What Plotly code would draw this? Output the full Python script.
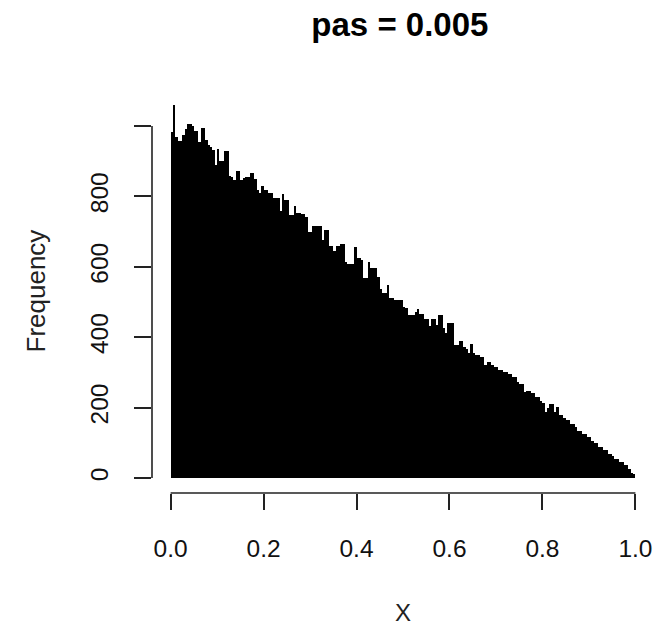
import numpy as np
import plotly.graph_objects as go

# Histogram of X with bin width ("pas") 0.005 on [0, 1]
bin_width = 0.005
counts = [
    983, 1060, 968, 958, 958, 975, 992, 1006, 1006, 1000,
    985, 985, 956, 995, 995, 961, 945, 940, 933, 890,
    935, 900, 900, 928, 928, 859, 855, 848, 873, 873,
    848, 852, 855, 855, 868, 868, 849, 819, 811, 830,
    817, 817, 811, 811, 795, 795, 795, 760, 808, 791,
    791, 748, 748, 773, 754, 754, 751, 751, 741, 700,
    700, 717, 717, 717, 717, 677, 705, 705, 658, 658,
    646, 658, 658, 665, 665, 615, 608, 608, 608, 656,
    625, 625, 620, 568, 568, 615, 596, 596, 596, 572,
    536, 527, 527, 549, 511, 511, 506, 506, 506, 506,
    487, 482, 463, 463, 463, 472, 479, 466, 466, 451,
    451, 432, 451, 451, 435, 463, 463, 425, 411, 440,
    440, 440, 378, 378, 390, 390, 373, 366, 356, 380,
    354, 349, 349, 344, 344, 321, 330, 330, 321, 316,
    316, 307, 307, 302, 302, 297, 297, 288, 288, 273,
    267, 267, 245, 248, 248, 242, 242, 231, 231, 219,
    213, 188, 200, 210, 210, 188, 202, 178, 178, 172,
    164, 164, 153, 153, 145, 134, 134, 124, 124, 117,
    117, 105, 100, 100, 88, 88, 79, 79, 69, 69,
    62, 55, 55, 46, 46, 36, 36, 27, 14, 12,
]
x_tickvals = [0.0, 0.2, 0.4, 0.6, 0.8, 1.0]
x_ticktext = ["0.0", "0.2", "0.4", "0.6", "0.8", "1.0"]
y_tickvals = [0, 200, 400, 600, 800, 1000]
y_ticktext = ["0", "200", "400", "600", "800", ""]
title_text = "pas = 0.005"
x_title = "X"
y_title = "Frequency"

edges = np.arange(len(counts) + 1) * bin_width
centers = (edges[:-1] + edges[1:]) / 2

FONT = "Liberation Sans, Arial, sans-serif"

fig = go.Figure()
fig.add_trace(go.Bar(
    x=centers, y=counts, width=bin_width,
    marker=dict(color="black", line=dict(width=0)),
    hoverinfo="x+y",
))

ymax = max(counts)
xr = [edges[0] - 0.04 * (edges[-1] - edges[0]), edges[-1] + 0.04 * (edges[-1] - edges[0])]
yr = [-0.04 * ymax, 1.04 * ymax]

fig.update_layout(
    width=661, height=629,
    margin=dict(l=152, r=7, t=90, b=136),
    paper_bgcolor="white", plot_bgcolor="white",
    showlegend=False,
    bargap=0,
    font=dict(family=FONT, color="black"),
    title=dict(text="<b>" + title_text + "</b>", x=0.605, xanchor="center",
               y=1 - 24 / 629, yanchor="middle", yref="container",
               font=dict(size=33, family=FONT, color="black")),
    xaxis=dict(range=xr, showgrid=False, zeroline=False, showline=False,
               tickvals=x_tickvals, ticktext=x_ticktext,
               ticks="outside", ticklen=16, tickwidth=1.6, tickcolor="#222",
               ticklabelstandoff=18,
               tickfont=dict(size=24.5, family=FONT, color="#111")),
    yaxis=dict(range=yr, showgrid=False, zeroline=False, showline=False,
               tickvals=y_tickvals, ticktext=y_ticktext, tickangle=-90,
               ticks="outside", ticklen=17, tickwidth=1.6, tickcolor="#222",
               ticklabelstandoff=16,
               tickfont=dict(size=24.5, family=FONT, color="#111")),
)

# R-style axis lines spanning only from first to last tick
fig.add_shape(type="line", xref="x", yref="paper", x0=x_tickvals[0], x1=x_tickvals[-1],
              y0=0, y1=0, line=dict(color="#222", width=1.6), layer="above")
fig.add_shape(type="line", xref="paper", yref="y", x0=0, x1=0,
              y0=y_tickvals[0], y1=y_tickvals[-1], line=dict(color="#222", width=1.6), layer="above")

fig.add_annotation(text=x_title, xref="paper", yref="paper", x=0.5, y=0,
                   xanchor="center", yanchor="middle", yshift=-119, showarrow=False,
                   font=dict(size=24, family=FONT, color="#222"))
fig.add_annotation(text=y_title, xref="paper", yref="paper", x=0, y=0.5,
                   xanchor="center", yanchor="middle", xshift=-117, textangle=-90,
                   showarrow=False, font=dict(size=26, family=FONT, color="#222"))

fig.write_html("out.html")
